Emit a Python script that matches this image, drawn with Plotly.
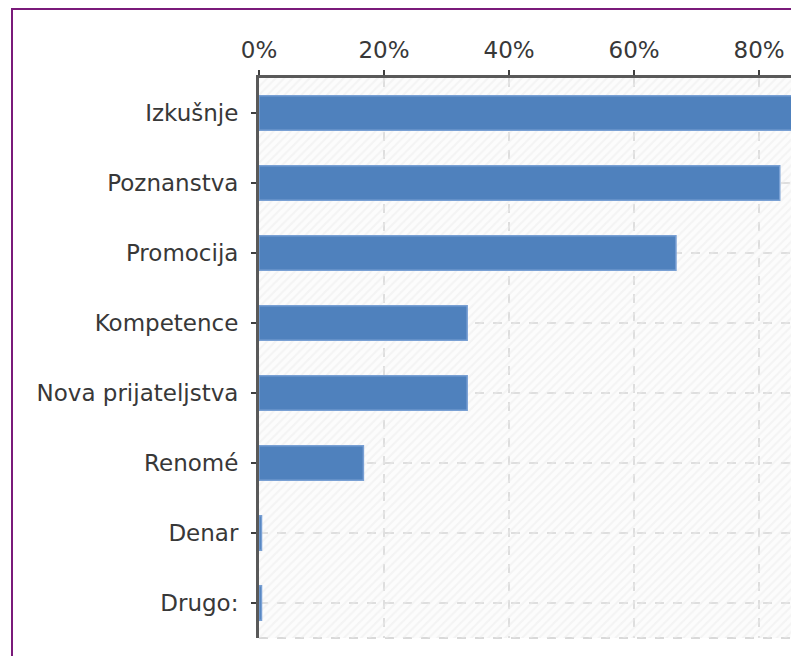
import plotly.graph_objects as go

categories = ["Izkušnje", "Poznanstva", "Promocija", "Kompetence",
              "Nova prijateljstva", "Renomé", "Denar", "Drugo:"]
values = [100.0, 83.3, 66.7, 33.3, 33.3, 16.7, 0.4, 0.4]
x_ticks = [0, 20, 40, 60, 80]
x_tick_labels = ["0%", "20%", "40%", "60%", "80%"]

W, H = 791, 656
L, R, T, B = 259, 0, 78, 18
pw, ph = W - L - R, H - T - B

def px_x(x):
    return (x - L) / pw

def px_y(y):
    return 1 - (y - T) / ph

fig = go.Figure()

# hatched background
fig.add_trace(go.Bar(
    x=[200] * len(categories), y=categories, orientation="h", width=1,
    marker=dict(color="rgba(0,0,0,0)", line=dict(width=0),
                pattern=dict(shape="/", fgcolor="#ebebeb", bgcolor="rgba(0,0,0,0)",
                             size=6, solidity=0.35)),
    hoverinfo="skip", showlegend=False,
))

fig.add_trace(go.Bar(
    x=values, y=categories, orientation="h",
    marker=dict(color="#4f81bd", line=dict(color="#79a0d4", width=1.5)),
    showlegend=False,
))

font = dict(family="DejaVu Sans", size=23, color="#383838")

fig.update_layout(
    width=W, height=H,
    margin=dict(l=L, r=R, t=T, b=B, pad=0),
    paper_bgcolor="white", plot_bgcolor="#fcfcfc",
    barmode="overlay", bargap=0.51,
    font=font,
    xaxis=dict(side="top", range=[0, 85.1], tickvals=x_ticks, ticktext=x_tick_labels,
               ticks="outside", ticklen=5, tickwidth=2, tickcolor="#404040",
               showline=True, linecolor="#595959", linewidth=3,
               showgrid=True, gridcolor="#dedede", gridwidth=2, griddash="dash",
               zeroline=False, tickfont=font, ticklabelstandoff=3,
               layer="below traces", fixedrange=True),
    yaxis=dict(categoryorder="array", categoryarray=categories, autorange="reversed",
               ticks="outside", ticklen=5, tickwidth=2, tickcolor="#404040",
               showline=True, linecolor="#595959", linewidth=3,
               showgrid=True, gridcolor="#dedede", gridwidth=2, griddash="dash",
               zeroline=False, tickfont=font, ticklabelstandoff=8,
               layer="below traces", fixedrange=True),
    shapes=[
        dict(type="line", xref="paper", yref="paper", x0=0, x1=1.05, y0=0, y1=0,
             line=dict(color="#d9d9d9", width=2, dash="dash"), layer="below"),
        dict(type="rect", xref="paper", yref="paper",
             x0=px_x(12), x1=px_x(W + 20), y0=px_y(H + 20), y1=px_y(9),
             line=dict(color="#7a1a7a", width=2), fillcolor="rgba(0,0,0,0)"),
    ],
)

fig.write_html("out.html", config={"displayModeBar": False},
               post_script="document.body.style.margin='0';document.body.style.overflow='hidden';")
